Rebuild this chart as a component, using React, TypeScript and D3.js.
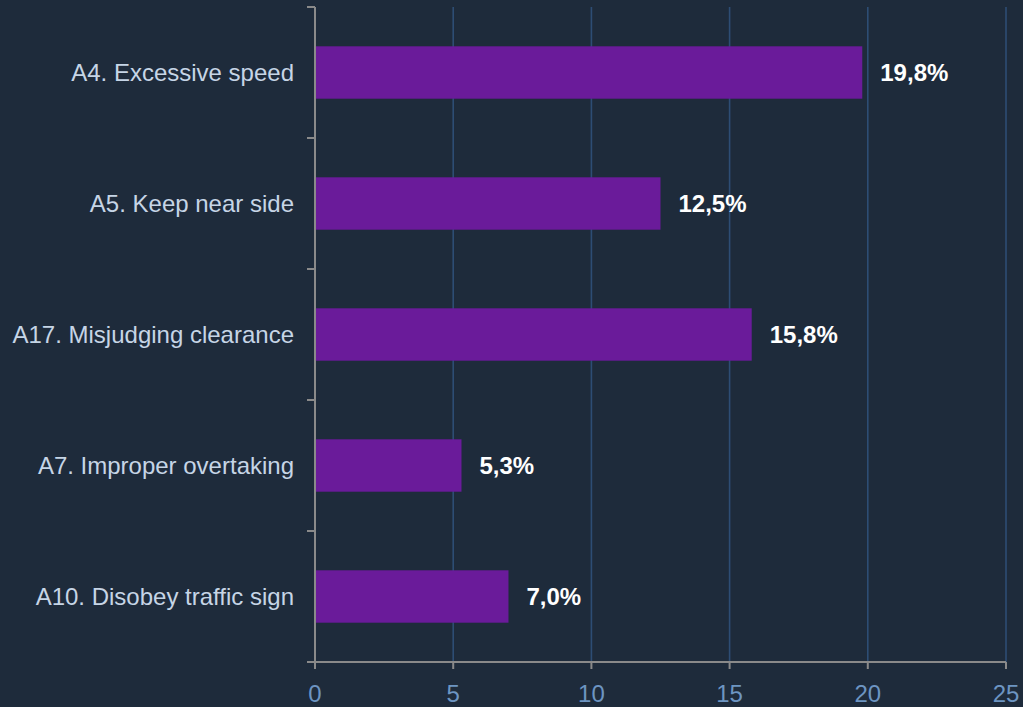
import React from "react";
import * as d3 from "d3";

const categories = [
  "A4. Excessive speed",
  "A5. Keep near side",
  "A17. Misjudging clearance",
  "A7. Improper overtaking",
  "A10. Disobey traffic sign",
];
const values = [19.8, 12.5, 15.8, 5.3, 7.0];
const xTicks = [0, 5, 10, 15, 20, 25];

const W = 1023;
const H = 707;
const M = { left: 315, right: 17, top: 7, bottom: 45 };

export default function App() {
  const x = d3.scaleLinear().domain([0, 25]).range([M.left, W - M.right]);
  const y = d3
    .scaleBand<string>()
    .domain(categories)
    .range([M.top, H - M.bottom])
    .paddingInner(0.6)
    .paddingOuter(0.3);
  const bandStart = M.top;
  const bottom = H - M.bottom;
  const boundaries = d3.range(categories.length + 1).map((i) => bandStart + i * ((bottom - bandStart) / categories.length));
  const fmt = (v: number) => v.toFixed(1).replace(".", ",") + "%";
  const font = "'Liberation Sans', Arial, sans-serif";
  return (
    <svg width={W} height={H} style={{ position: "absolute", left: 0, top: 0, display: "block" }}>
      <rect x={0} y={0} width={W} height={H} fill="#1e2b3b" />
      {xTicks.filter((t) => t > 0).map((t) => (
        <line key={"g" + t} x1={x(t)} x2={x(t)} y1={M.top} y2={bottom} stroke="#2d4d74" strokeWidth={1.6} />
      ))}
      {categories.map((c, i) => (
        <g key={c}>
          <rect x={x(0)} y={y(c)!} width={x(values[i]) - x(0)} height={y.bandwidth()} fill="#6a1b9a" />
          <text
            x={x(values[i]) + 18}
            y={y(c)! + y.bandwidth() / 2}
            dy="0.35em"
            fill="#ffffff"
            fontWeight="bold"
            fontSize={24}
            fontFamily={font}
          >
            {fmt(values[i])}
          </text>
          <text
            x={M.left - 21}
            y={y(c)! + y.bandwidth() / 2}
            dy="0.35em"
            textAnchor="end"
            fill="#c6d5e6"
            fontSize={24}
            fontFamily={font}
          >
            {c}
          </text>
        </g>
      ))}
      {/* y axis */}
      <line x1={x(0)} x2={x(0)} y1={M.top} y2={bottom + 7} stroke="#8a8a8a" strokeWidth={2} />
      {boundaries.map((b, i) => (
        <line key={"yt" + i} x1={x(0) - 8} x2={x(0)} y1={b} y2={b} stroke="#8a8a8a" strokeWidth={2} />
      ))}
      {/* x axis */}
      <line x1={x(0) - 8} x2={x(25)} y1={bottom} y2={bottom} stroke="#8a8a8a" strokeWidth={2} />
      {xTicks.map((t) => (
        <g key={"xt" + t}>
          <line x1={x(t)} x2={x(t)} y1={bottom} y2={bottom + 7} stroke="#8a8a8a" strokeWidth={2} />
          <text x={x(t)} y={bottom + 40} textAnchor="middle" fill="#6d95c2" fontSize={24} fontFamily={font}>
            {t}
          </text>
        </g>
      ))}
    </svg>
  );
}
